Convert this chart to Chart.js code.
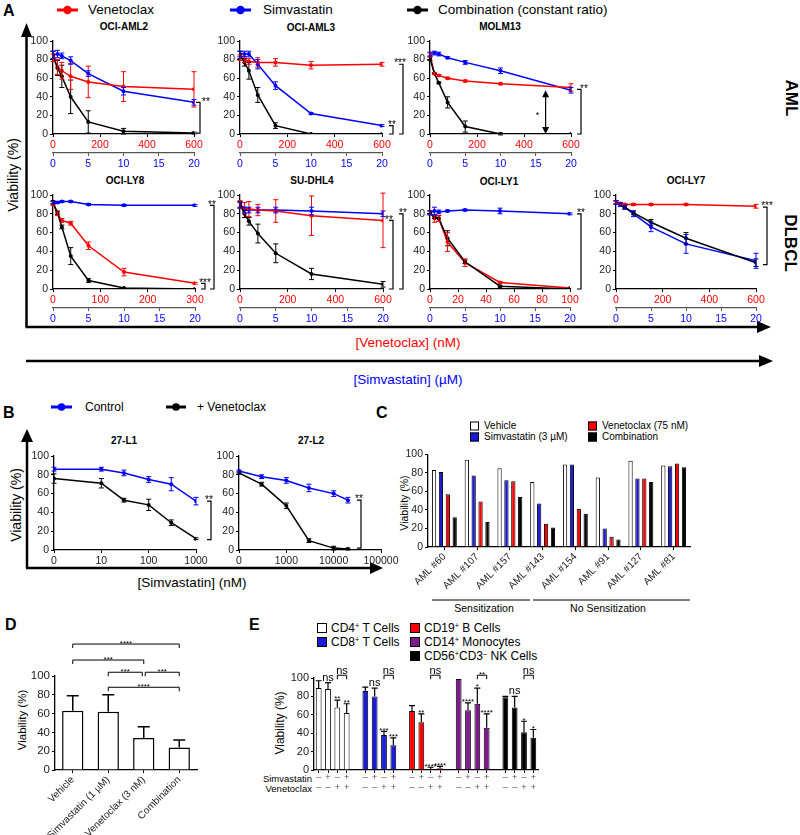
<!DOCTYPE html>
<html>
<head>
<meta charset="utf-8">
<title>Venetoclax and simvastatin viability</title>
<script src="https://cdn.jsdelivr.net/npm/chart.js@4.4.1/dist/chart.umd.min.js"></script>
<style>
  body { margin: 0; background: #fff; }
  #fig { position: relative; width: 800px; height: 835px; overflow: hidden; background: #fff;
         font-family: 'Liberation Sans', Arial, Helvetica, sans-serif; color: #000; }
  #fig canvas { position: absolute; }
  #fig svg { position: absolute; left: 0; top: 0; }
  .t { position: absolute; white-space: nowrap; line-height: 1; transform: translate(-50%, -50%); }
  .l { transform: translate(0, -50%); }
  .r { transform: translate(-100%, -50%); }
  .up { transform: translate(-50%, -50%) rotate(-90deg); }
  .down { transform: translate(-50%, -50%) rotate(90deg); }
  .b { font-weight: bold; }
  .box { position: absolute; border: 1px solid #000; transform: translate(0, -50%); box-sizing: border-box; }
  sup { font-size: 0.62em; vertical-align: 0; position: relative; top: -0.5em; }
</style>
</head>
<body>
<div id="fig">
<svg width="800" height="835">
  <g stroke="#000" stroke-width="2.5">
    <line x1="26.5" y1="327" x2="26.5" y2="34"/>
    <line x1="25.5" y1="327" x2="760" y2="327"/>
    <line x1="26" y1="361" x2="762" y2="361"/>
    <line x1="27" y1="568" x2="27" y2="440"/>
    <line x1="26" y1="568" x2="372" y2="568"/>
  </g>
  <g fill="#000">
    <polygon points="21,37 32,37 26.5,23"/>
    <polygon points="757,321 757,333 771,327"/>
    <polygon points="759,355 759,367 773,361"/>
    <polygon points="21,442 33,442 27,429"/>
    <polygon points="370,562 370,574 383,568"/>
  </g>
  <!-- legend A -->
  <line x1="57" y1="10" x2="78" y2="10" stroke="#ff0000" stroke-width="3"/><circle cx="67.5" cy="10" r="4.2" fill="#ff0000"/>
  <line x1="230" y1="10" x2="251" y2="10" stroke="#0000ff" stroke-width="3"/><circle cx="240.5" cy="10" r="4.2" fill="#0000ff"/>
  <line x1="407" y1="10" x2="428" y2="10" stroke="#000" stroke-width="3"/><circle cx="417.5" cy="10" r="4.2" fill="#000"/>
  <!-- legend B -->
  <line x1="51" y1="407" x2="72" y2="407" stroke="#0000ff" stroke-width="3"/><circle cx="61.5" cy="407" r="3.8" fill="#0000ff"/>
  <line x1="166" y1="407" x2="186" y2="407" stroke="#000" stroke-width="3"/><circle cx="176" cy="407" r="3.8" fill="#000"/>
  <!-- C grouping lines -->
  <line x1="432" y1="600" x2="530" y2="600" stroke="#000" stroke-width="1"/>
  <line x1="533" y1="600" x2="690" y2="600" stroke="#000" stroke-width="1"/>
</svg>

<!-- panel A texts -->
<div class="t l b" style="left:3px;top:11px;font-size:16px">A</div>
<div class="t l" style="left:88px;top:10px;font-size:13.5px">Venetoclax</div>
<div class="t l" style="left:263px;top:10px;font-size:13.5px">Simvastatin</div>
<div class="t l" style="left:438px;top:10px;font-size:13.5px">Combination (constant ratio)</div>
<div class="t b" style="left:124px;top:27px;font-size:10px">OCI-AML2</div>
<div class="t b" style="left:311px;top:28px;font-size:10px">OCI-AML3</div>
<div class="t b" style="left:500px;top:27px;font-size:10px">MOLM13</div>
<div class="t b" style="left:125px;top:181px;font-size:10px">OCI-LY8</div>
<div class="t b" style="left:312px;top:181px;font-size:10px">SU-DHL4</div>
<div class="t b" style="left:499px;top:182px;font-size:10px">OCI-LY1</div>
<div class="t b" style="left:686px;top:181px;font-size:10px">OCI-LY7</div>
<div class="t up" style="left:13px;top:175px;font-size:14px">Viability (%)</div>
<div class="t down b" style="left:791px;top:98px;font-size:17px">AML</div>
<div class="t down b" style="left:790px;top:243px;font-size:17px">DLBCL</div>
<div class="t" style="left:408px;top:343px;font-size:13.5px;color:#ff0000">[Venetoclax] (nM)</div>
<div class="t" style="left:408px;top:380px;font-size:13.5px;color:#0000ff">[Simvastatin] (µM)</div>

<!-- panel B texts -->
<div class="t l b" style="left:3px;top:413px;font-size:16px">B</div>
<div class="t l" style="left:85px;top:407px;font-size:12px">Control</div>
<div class="t l" style="left:197px;top:407px;font-size:12px">+ Venetoclax</div>
<div class="t b" style="left:124px;top:441px;font-size:10px">27-L1</div>
<div class="t b" style="left:311px;top:441px;font-size:10px">27-L2</div>
<div class="t up" style="left:16px;top:505px;font-size:14px">Viability (%)</div>
<div class="t" style="left:192px;top:583px;font-size:13.5px">[Simvastatin] (nM)</div>

<!-- panel C texts -->
<div class="t l b" style="left:376px;top:413px;font-size:16px">C</div>
<div class="box" style="left:470px;top:426px;width:9px;height:9px;background:#fff"></div>
<div class="t l" style="left:484px;top:426px;font-size:10px">Vehicle</div>
<div class="box" style="left:470px;top:437px;width:9px;height:9px;background:#1a1adb"></div>
<div class="t l" style="left:484px;top:437px;font-size:10px">Simvastatin (3 µM)</div>
<div class="box" style="left:588px;top:426px;width:9px;height:9px;background:#ff0000"></div>
<div class="t l" style="left:602px;top:426px;font-size:10px">Venetoclax (75 nM)</div>
<div class="box" style="left:588px;top:437px;width:9px;height:9px;background:#000"></div>
<div class="t l" style="left:602px;top:437px;font-size:10px">Combination</div>
<div class="t up" style="left:404px;top:503px;font-size:10.5px">Viability (%)</div>
<div class="t" style="left:484px;top:608px;font-size:10.5px">Sensitization</div>
<div class="t" style="left:608px;top:608px;font-size:10.5px">No Sensitization</div>

<!-- panel D texts -->
<div class="t l b" style="left:5px;top:625px;font-size:16px">D</div>
<div class="t up" style="left:23px;top:720px;font-size:11.5px">Viability (%)</div>

<!-- panel E texts -->
<div class="t l b" style="left:249px;top:625px;font-size:16px">E</div>
<div class="box" style="left:317px;top:628px;width:10px;height:10px;background:#fff"></div>
<div class="t l" style="left:331px;top:628px;font-size:12px">CD4<sup>+</sup> T Cells</div>
<div class="box" style="left:317px;top:642px;width:10px;height:10px;background:#1a1adb"></div>
<div class="t l" style="left:331px;top:642px;font-size:12px">CD8<sup>+</sup> T Cells</div>
<div class="box" style="left:410px;top:628px;width:10px;height:10px;background:#ff0000"></div>
<div class="t l" style="left:424px;top:628px;font-size:12px">CD19<sup>+</sup> B Cells</div>
<div class="box" style="left:410px;top:642px;width:10px;height:10px;background:#7d1a8c"></div>
<div class="t l" style="left:424px;top:642px;font-size:12px">CD14<sup>+</sup> Monocytes</div>
<div class="box" style="left:410px;top:656px;width:10px;height:10px;background:#000"></div>
<div class="t l" style="left:424px;top:656px;font-size:12px">CD56<sup>+</sup>CD3<sup>–</sup> NK Cells</div>
<div class="t up" style="left:280px;top:723px;font-size:12px">Viability (%)</div>
<div class="t r" style="left:312px;top:779px;font-size:9.5px">Simvastatin</div>
<div class="t r" style="left:312px;top:789px;font-size:9.5px">Venetoclax</div>
</div>

<script>
// ---------- Panel A: constant-ratio dose response (mean, SD) ----------
const simDose = [0, 0.625, 1.25, 2.5, 5, 10, 20];          // simvastatin (µM)
const venDose600 = [0, 18.75, 37.5, 75, 150, 300, 600];    // venetoclax (nM)
const venDose300 = [0, 9.375, 18.75, 37.5, 75, 150, 300];
const venDose100 = [0, 3.125, 6.25, 12.5, 25, 50, 100];
const simTicks = [0, 5, 10, 15, 20];
const venTicks600 = [0, 200, 400, 600];
const venTicks300 = [0, 100, 200, 300];
const venTicks100 = [0, 20, 40, 60, 80, 100];
const yTicks = [0, 20, 40, 60, 80, 100];

const aml2Ven = [82, 72, 68, 62, 56, 51, 48],   aml2VenSd = [4, 8, 9, 14, 17, 16, 19];
const aml2Sim = [85, 86, 84, 79, 65, 46, 34],   aml2SimSd = [4, 4, 3, 4, 3, 4, 3];
const aml2Combo = [85, 71, 62, 40, 13, 3, 1],   aml2ComboSd = [4, 8, 12, 18, 12, 3, 1];

const aml3Ven = [82, 80, 78, 77, 77, 74, 75],   aml3VenSd = [3, 3, 3, 5, 4, 4, 2];
const aml3Sim = [86, 86, 86, 75, 52, 22, 9],    aml3SimSd = [3, 3, 3, 5, 4, 1, 1];
const aml3Combo = [85, 77, 68, 42, 9, 0, 0],    aml3ComboSd = [4, 4, 9, 8, 3, 0, 0];

const molmVen = [85, 65, 63, 60, 57, 54, 50],   molmVenSd = [2, 1, 1, 1, 1, 1, 4];
const molmSim = [86, 87, 86, 82, 77, 68, 47],   molmSimSd = [2, 2, 2, 1, 2, 3, 3];
const molmCombo = [81, 65, 55, 34, 8, 0, 0],    molmComboSd = [2, 1, 1, 6, 6, 1, 0];

const ly8Ven = [91, 80, 73, 70, 46, 18, 6],     ly8VenSd = [2, 2, 2, 2, 4, 4, 1];
const ly8Sim = [92, 92, 93, 93, 90, 89, 89],    ly8SimSd = [1, 1, 1, 1, 1, 1, 1];
const ly8Combo = [92, 81, 66, 35, 9, 1, 0],     ly8ComboSd = [2, 2, 2, 9, 2, 0, 0];

const dhl4Ven = [90, 86, 85, 84, 83, 78, 73],   dhl4VenSd = [4, 6, 8, 6, 12, 21, 29];
const dhl4Sim = [89, 84, 84, 84, 84, 83, 80],   dhl4SimSd = [3, 3, 3, 3, 3, 4, 3];
const dhl4Combo = [90, 80, 72, 59, 38, 16, 5],  dhl4ComboSd = [3, 4, 4, 10, 10, 6, 3];

const ly1Ven = [81, 75, 75, 50, 28, 7, 1],      ly1VenSd = [2, 4, 3, 10, 4, 1, 0];
const ly1Sim = [81, 83, 82, 83, 84, 83, 80],    ly1SimSd = [2, 4, 2, 1, 1, 3, 1];
const ly1Combo = [81, 77, 75, 54, 29, 3, 0],    ly1ComboSd = [2, 2, 3, 8, 2, 1, 0];

const ly7Ven = [92, 91, 90, 90, 90, 90, 88],    ly7VenSd = [1, 1, 1, 1, 1, 1, 2];
const ly7Sim = [92, 90, 87, 80, 66, 48, 30],    ly7SimSd = [2, 2, 2, 3, 5, 10, 8];
const ly7Combo = [92, 90, 87, 81, 71, 54, 28],  ly7ComboSd = [2, 2, 2, 2, 3, 6, 4];

// ---------- Panel B: simvastatin +/- venetoclax ----------
const l1Dose = [0, 10, 30, 100, 300, 1000];               // nM
const l1Ctrl = [86, 86, 82, 75, 70, 52],    l1CtrlSd = [2, 2, 3, 3, 7, 4];
const l1Ven = [76, 71, 53, 48, 29, 12],     l1VenSd = [5, 5, 2, 6, 3, 1];
const l1TickVals = [1, 10, 100, 1000],      l1TickLabels = ['0', '10', '100', '1000'];
const l2Dose = [0, 300, 1000, 3000, 10000, 20000];
const l2Ctrl = [84, 78, 74, 66, 60, 53],    l2CtrlSd = [1, 2, 3, 4, 3, 3];
const l2Ven = [82, 70, 47, 10, 2, 1],       l2VenSd = [1, 2, 3, 2, 2, 1];
const l2TickVals = [100, 1000, 10000, 100000], l2TickLabels = ['0', '1000', '10000', '100000'];

// ---------- Panel C: primary AML samples ----------
const cLabels = ['AML #60', 'AML #107', 'AML #157', 'AML #143', 'AML #154', 'AML #91', 'AML #127', 'AML #81'];
const cVehicle = [83, 94, 85, 70, 89, 75, 93, 88];
const cSim = [81, 77, 72, 47, 89, 20, 74, 87];
const cVen = [57, 49, 71, 25, 41, 11, 74, 90];
const cCombo = [32, 27, 54, 21, 36, 8, 70, 86];

// ---------- Panel D ----------
const dLabels = ['Vehicle', 'Simvastatin (1 µM)', 'Venetoclax (3 nM)', 'Combination'];
const dMean = [63, 62, 34, 24];
const dSd = [16, 18, 12, 8];
const dSig = ['****', '***', '***', '***', '****'];

// ---------- Panel E: healthy PBMC subsets ----------
const simSign = ['–', '+', '–', '+'];
const venSign = ['–', '–', '+', '+'];
const cd4 = [89, 88, 68, 62],  cd4Sd = [8, 7, 8, 10];
const cd8 = [86, 80, 38, 27],  cd8Sd = [4, 9, 4, 8];
const cd19 = [64, 52, 1, 2],   cd19Sd = [6, 9, 2, 2];
const cd14 = [99, 65, 72, 46], cd14Sd = [0, 8, 17, 15];
const nk = [79, 68, 41, 35],   nkSd = [1, 12, 12, 9];
const eStars = [['', 'ns', '**', '**'], ['', 'ns', '***', '***'], ['', '**', '****', '****'], ['', '****', '*', '****'], ['', 'ns', '*', '*']];
const eComboSig = ['ns', 'ns', 'ns', '**', 'ns'];

// ---------- drawing ----------
const RED = '#ff0000', BLUE = '#0000ff';
const FONT = "'Liberation Sans', Arial, Helvetica, sans-serif";
Chart.defaults.font.family = FONT;
Chart.defaults.color = '#222';
Chart.defaults.animation = false;
Chart.defaults.plugins.legend.display = false;
Chart.defaults.plugins.tooltip.enabled = false;
const fig = document.getElementById('fig');

// canvas sized so the plot area lands on x0..x1, y0..y1 of the page
function place(x0, y0, x1, y1, pad, yw, xh) {
  const c = document.createElement('canvas');
  c.width = Math.round(x1 - x0 + pad.l + pad.r);
  c.height = Math.round(y1 - y0 + pad.t + pad.b);
  c.style.left = Math.round(x0 - pad.l) + 'px';
  c.style.top = Math.round(y0 - pad.t) + 'px';
  fig.appendChild(c);
  return { canvas: c, padding: { left: pad.l - yw, top: pad.t, right: pad.r, bottom: pad.b - xh } };
}

function label(ctx, s, x, y, size) {   // y = bottom of the glyphs
  ctx.font = size + 'px ' + FONT;
  ctx.fillText(s, x, s[0] === '*' ? y + size * 0.42 : y);
}

const errorBars = {
  id: 'errorBars',
  afterDatasetsDraw(chart) {
    const ctx = chart.ctx;
    chart.data.datasets.forEach((ds, i) => {
      if (!ds.err) return;
      const meta = chart.getDatasetMeta(i), ys = meta.yScale;
      ctx.save();
      ctx.lineWidth = ds.errWidth || 1;
      ctx.strokeStyle = ds.errColor || ds.borderColor;
      meta.data.forEach((el, j) => {
        const raw = ds.data[j], v = raw && typeof raw === 'object' ? raw.y : raw, e = ds.err[j];
        if (v == null || !e) return;
        const cap = ds.cap || 2.5, x = el.x;
        const top = ys.getPixelForValue(v + e), bot = ys.getPixelForValue(ds.upOnly ? v : v - e);
        ctx.beginPath();
        ctx.moveTo(x, top); ctx.lineTo(x, bot);
        ctx.moveTo(x - cap, top); ctx.lineTo(x + cap, top);
        if (!ds.upOnly) { ctx.moveTo(x - cap, bot); ctx.lineTo(x + cap, bot); }
        ctx.stroke();
      });
      ctx.restore();
    });
  }
};

// significance brackets at the right side of a dose-response plot
function marksPlugin(items) {
  return {
    id: 'marks',
    afterDraw(chart) {
      const ctx = chart.ctx, a = chart.chartArea, ys = chart.scales.y;
      ctx.save();
      ctx.strokeStyle = '#000'; ctx.fillStyle = '#000'; ctx.lineWidth = 1.2; ctx.textAlign = 'center';
      items.forEach(m => {
        const top = ys.getPixelForValue(m.y1), bot = ys.getPixelForValue(m.y2);
        if (m.arrow) {
          const x = chart.scales[m.axis].getPixelForValue(m.x);
          ctx.beginPath(); ctx.moveTo(x, top + 3); ctx.lineTo(x, bot - 3); ctx.stroke();
          ctx.beginPath();
          ctx.moveTo(x, top); ctx.lineTo(x - 3.5, top + 7); ctx.lineTo(x + 3.5, top + 7);
          ctx.moveTo(x, bot); ctx.lineTo(x - 3.5, bot - 7); ctx.lineTo(x + 3.5, bot - 7);
          ctx.fill();
          label(ctx, m.label, x - 8, (top + bot) / 2 + 2, 9);
          return;
        }
        const x = a.right + m.dx;
        ctx.beginPath(); ctx.moveTo(x - 4, top); ctx.lineTo(x, top); ctx.lineTo(x, bot); ctx.lineTo(x - 4, bot); ctx.stroke();
        label(ctx, m.label, x + (m.lx || 0), top - 2, 10);
      });
      ctx.restore();
    }
  };
}

// brackets between bars + labels above single bars (category charts)
function sigPlugin(cfg) {
  return {
    id: 'sig',
    afterDraw(chart) {
      const ctx = chart.ctx, xs = chart.scales.x, ys = chart.scales.y;
      ctx.save();
      ctx.strokeStyle = '#000'; ctx.fillStyle = '#000'; ctx.lineWidth = 1; ctx.textAlign = 'center';
      (cfg.brackets || []).forEach(b => {
        const xa = xs.getPixelForValue(b.a) + (b.da || 0), xb = xs.getPixelForValue(b.b) + (b.db || 0);
        const y = ys.getPixelForValue(b.y);
        ctx.beginPath(); ctx.moveTo(xa, y + cfg.tick); ctx.lineTo(xa, y); ctx.lineTo(xb, y); ctx.lineTo(xb, y + cfg.tick); ctx.stroke();
        label(ctx, b.label, (xa + xb) / 2, y - 1.5, b.label[0] === '*' ? cfg.star : cfg.font);
      });
      if (cfg.bars) {
        const ds = chart.data.datasets[0], meta = chart.getDatasetMeta(0);
        cfg.bars.forEach((s, j) => {
          if (!s || ds.data[j] == null) return;
          const y = ys.getPixelForValue(ds.data[j] + (ds.err[j] || 0));
          label(ctx, s, meta.data[j].x, y - 2, s[0] === '*' ? cfg.star : cfg.font);
        });
      }
      ctx.restore();
    }
  };
}

function yAxis(w, size, ticks) {
  return {
    min: 0, max: 100,
    afterBuildTicks: s => { s.ticks = ticks.map(v => ({ value: v })); },
    ticks: { font: { size }, color: '#222', padding: 2 },
    grid: { drawOnChartArea: false, tickLength: 3, color: '#000' },
    border: { color: '#000', width: 1.3 },
    afterFit: s => { s.width = w; }
  };
}

function doseAxis(color, max, ticks, line, weight, h) {
  return {
    type: 'linear', position: 'bottom', weight, min: 0, max,
    afterBuildTicks: s => { s.ticks = ticks.map(v => ({ value: v })); },
    ticks: { color, font: { size: 10.5 }, padding: 2, maxRotation: 0, autoSkip: false },
    grid: { drawOnChartArea: false, tickLength: 3, color: line },
    border: { color: line, width: 1.2 },
    afterFit: s => { s.height = h; }
  };
}

const pts = (xs, ys) => xs.map((x, i) => ({ x, y: ys[i] }));
const series = (color, data, err, axis, order) => ({
  data, err, xAxisID: axis, order, borderColor: color, backgroundColor: color, pointBackgroundColor: color
});

function doseChart(p, pos) {
  const [x0, x1, row] = pos;
  const y0 = row ? 194.5 : 40.7, y1 = row ? 288.3 : 133.3;
  const L = place(x0, y0, x1, y1, { l: 30, t: 10, r: 30, b: 44 }, 26, 40);
  new Chart(L.canvas, {
    type: 'line',
    data: { datasets: [
      series('#000', pts(simDose, p.combo), p.comboSd, 'xs', 0),
      series(RED, pts(p.venDose, p.ven), p.venSd, 'xv', 1),
      series(BLUE, pts(simDose, p.sim), p.simSd, 'xs', 2)
    ] },
    options: {
      responsive: false, events: [], devicePixelRatio: 1,
      layout: { padding: L.padding },
      elements: { line: { borderWidth: 1.5, tension: 0 }, point: { radius: 2, borderWidth: 0 } },
      scales: {
        y: yAxis(26, 10.5, yTicks),
        xv: doseAxis(RED, p.venDose[p.venDose.length - 1], p.venTicks, '#000', 1, 19),
        xs: doseAxis(BLUE, simDose[simDose.length - 1], simTicks, '#555', 2, 21)
      }
    },
    plugins: [errorBars, marksPlugin(p.marks)]
  });
}

const panelA = [
  { ven: aml2Ven, venSd: aml2VenSd, sim: aml2Sim, simSd: aml2SimSd, combo: aml2Combo, comboSd: aml2ComboSd,
    venDose: venDose600, venTicks: venTicks600, marks: [{ dx: 6, y1: 34, y2: 1, label: '**', lx: 6 }] },
  { ven: aml3Ven, venSd: aml3VenSd, sim: aml3Sim, simSd: aml3SimSd, combo: aml3Combo, comboSd: aml3ComboSd,
    venDose: venDose600, venTicks: venTicks600,
    marks: [{ dx: 11, y1: 9, y2: 0, label: '**', lx: -1 }, { dx: 21, y1: 75, y2: 0, label: '***', lx: -3 }] },
  { ven: molmVen, venSd: molmVenSd, sim: molmSim, simSd: molmSimSd, combo: molmCombo, comboSd: molmComboSd,
    venDose: venDose600, venTicks: venTicks600,
    marks: [{ dx: 10, y1: 48, y2: 0, label: '**', lx: 3 }, { arrow: true, axis: 'xs', x: 16.4, y1: 47, y2: 0, label: '*' }] },
  { ven: ly8Ven, venSd: ly8VenSd, sim: ly8Sim, simSd: ly8SimSd, combo: ly8Combo, comboSd: ly8ComboSd,
    venDose: venDose300, venTicks: venTicks300,
    marks: [{ dx: 10, y1: 6, y2: 0, label: '***' }, { dx: 19, y1: 89, y2: 0, label: '**', lx: -2 }] },
  { ven: dhl4Ven, venSd: dhl4VenSd, sim: dhl4Sim, simSd: dhl4SimSd, combo: dhl4Combo, comboSd: dhl4ComboSd,
    venDose: venDose600, venTicks: venTicks600,
    marks: [{ dx: 10, y1: 73, y2: 0, label: '**', lx: -4 }, { dx: 20, y1: 80, y2: 0, label: '**' }] },
  { ven: ly1Ven, venSd: ly1VenSd, sim: ly1Sim, simSd: ly1SimSd, combo: ly1Combo, comboSd: ly1ComboSd,
    venDose: venDose100, venTicks: venTicks100, marks: [{ dx: 11, y1: 80, y2: 0, label: '**' }] },
  { ven: ly7Ven, venSd: ly7VenSd, sim: ly7Sim, simSd: ly7SimSd, combo: ly7Combo, comboSd: ly7ComboSd,
    venDose: venDose600, venTicks: venTicks600, marks: [{ dx: 11, y1: 87, y2: 26, label: '***' }] }
];
// plot-area x extents and row for each small panel
const layoutA = [[53.3, 194.3, 0], [240, 381.7, 0], [430, 570.7, 0], [53.3, 195, 1], [240, 383.3, 1], [430, 570, 1], [616, 755.7, 1]];
panelA.forEach((p, i) => doseChart(p, layoutA[i]));

// ---- Panel B ----
function logChart(x0, x1, dose, ctrl, ctrlSd, ven, venSd, tickVals, tickLabels, marks) {
  const L = place(x0, 456, x1, 550, { l: 30, t: 10, r: 30, b: 22 }, 26, 18);
  const axMin = tickVals[0], axMax = tickVals[tickVals.length - 1];
  const xy = ys => dose.map((d, i) => ({ x: d === 0 ? axMin : d, y: ys[i] }));   // untreated shown at axis start
  new Chart(L.canvas, {
    type: 'line',
    data: { datasets: [
      series('#000', xy(ven), venSd, 'x', 0),
      series(BLUE, xy(ctrl), ctrlSd, 'x', 1)
    ] },
    options: {
      responsive: false, events: [], devicePixelRatio: 1,
      layout: { padding: L.padding },
      elements: { line: { borderWidth: 1.5, tension: 0 }, point: { radius: 2, borderWidth: 0 } },
      scales: {
        y: yAxis(26, 10.5, yTicks),
        x: {
          type: 'logarithmic', position: 'bottom', min: axMin, max: axMax,
          afterBuildTicks: s => { s.ticks = tickVals.map(v => ({ value: v })); },
          ticks: { callback: (v, i) => tickLabels[i], color: '#222', font: { size: 10.5 }, padding: 2, maxRotation: 0, autoSkip: false },
          grid: { drawOnChartArea: false, tickLength: 3, color: '#000' },
          border: { color: '#000', width: 1.3 },
          afterFit: s => { s.height = 18; }
        }
      }
    },
    plugins: [errorBars, marksPlugin(marks)]
  });
}
logChart(54.3, 196.7, l1Dose, l1Ctrl, l1CtrlSd, l1Ven, l1VenSd, l1TickVals, l1TickLabels, [{ dx: 15, y1: 52, y2: 11, label: '**', lx: -2 }]);
logChart(239.3, 381.7, l2Dose, l2Ctrl, l2CtrlSd, l2Ven, l2VenSd, l2TickVals, l2TickLabels, [{ dx: -20, y1: 53, y2: 2, label: '**', lx: -2 }]);

// ---- Panel C ----
(function () {
  const L = place(428, 454, 690, 547, { l: 30, t: 8, r: 10, b: 60 }, 26, 58);
  const bar = (data, color) => ({ data, backgroundColor: color, borderColor: '#000', borderWidth: 1 });
  new Chart(L.canvas, {
    type: 'bar',
    data: { labels: cLabels, datasets: [bar(cVehicle, '#fff'), bar(cSim, '#1a1adb'), bar(cVen, RED), bar(cCombo, '#000')] },
    options: {
      responsive: false, events: [], devicePixelRatio: 1,
      layout: { padding: L.padding },
      datasets: { bar: { categoryPercentage: 0.84, barPercentage: 0.62 } },
      scales: {
        y: yAxis(26, 10.5, yTicks),
        x: {
          ticks: { font: { size: 10 }, color: '#222', minRotation: 45, maxRotation: 45, padding: 1, autoSkip: false },
          grid: { drawOnChartArea: false, offset: false, tickLength: 3, color: '#000' },
          border: { color: '#000', width: 1.3 },
          afterFit: s => { s.height = 58; }
        }
      }
    }
  });
})();

// ---- Panel D ----
(function () {
  const L = place(55, 676, 197, 770, { l: 32, t: 50, r: 10, b: 72 }, 28, 70);
  new Chart(L.canvas, {
    type: 'bar',
    data: { labels: dLabels, datasets: [{ data: dMean, err: dSd, upOnly: true, cap: 6, errWidth: 1.5, errColor: '#000',
      backgroundColor: '#fff', borderColor: '#000', borderWidth: 1.5 }] },
    options: {
      responsive: false, events: [], devicePixelRatio: 1,
      layout: { padding: L.padding },
      datasets: { bar: { categoryPercentage: 1, barPercentage: 0.6 } },
      scales: {
        y: yAxis(28, 11.5, yTicks),
        x: {
          ticks: { font: { size: 10 }, color: '#222', minRotation: 45, maxRotation: 45, padding: 1, autoSkip: false },
          grid: { drawOnChartArea: false, offset: false, tickLength: 3, color: '#000' },
          border: { color: '#000', width: 1.3 },
          afterFit: s => { s.height = 70; }
        }
      }
    },
    plugins: [errorBars, sigPlugin({ tick: 4, font: 10, star: 8, brackets: [
      { a: 0, b: 3, y: 134, label: dSig[0] },
      { a: 0, b: 2, y: 117, label: dSig[1] },
      { a: 1, b: 2, y: 104, label: dSig[2], db: -1.5 },
      { a: 2, b: 3, y: 104, label: dSig[3], da: 1.5 },
      { a: 1, b: 3, y: 88, label: dSig[4] }
    ] })]
  });
})();

// ---- Panel E ----
(function () {
  const groups = [cd4, cd8, cd19, cd14, nk], sds = [cd4Sd, cd8Sd, cd19Sd, cd14Sd, nkSd];
  const colors = ['#fff', '#1a1adb', RED, '#7d1a8c', '#000'];
  const labels = [], data = [], err = [], fill = [], stars = [], brackets = [];
  groups.forEach((g, gi) => {
    g.forEach((v, b) => {
      labels.push([simSign[b], venSign[b]]);
      data.push(v); err.push(sds[gi][b]); fill.push(colors[gi]); stars.push(eStars[gi][b]);
    });
    const last = labels.length - 1;
    brackets.push({ a: last - 1, b: last, y: 103, label: eComboSig[gi] });
    if (gi < groups.length - 1) { labels.push(''); data.push(null); err.push(0); fill.push('#fff'); stars.push(''); }
  });
  const L = place(314, 678, 538, 770, { l: 30, t: 22, r: 6, b: 26 }, 26, 24);
  new Chart(L.canvas, {
    type: 'bar',
    data: { labels, datasets: [{ data, err, upOnly: true, cap: 3, errColor: '#000', errWidth: 1.2,
      backgroundColor: fill, borderColor: '#000', borderWidth: 1 }] },
    options: {
      responsive: false, events: [], devicePixelRatio: 1,
      layout: { padding: L.padding },
      datasets: { bar: { categoryPercentage: 1, barPercentage: 0.62 } },
      scales: {
        y: yAxis(26, 11, yTicks),
        x: {
          ticks: { font: { size: 9, lineHeight: 1.1 }, color: '#555', maxRotation: 0, autoSkip: false, padding: 0 },
          grid: { drawOnChartArea: false, offset: false, tickLength: 3,
                  color: c => (labels[c.index] === '' ? 'rgba(0,0,0,0)' : '#000') },
          border: { color: '#000', width: 1.3 },
          afterFit: s => { s.height = 24; }
        }
      }
    },
    plugins: [errorBars, sigPlugin({ tick: 4, font: 11, star: 8, brackets, bars: stars })]
  });
})();
</script>
</body>
</html>
